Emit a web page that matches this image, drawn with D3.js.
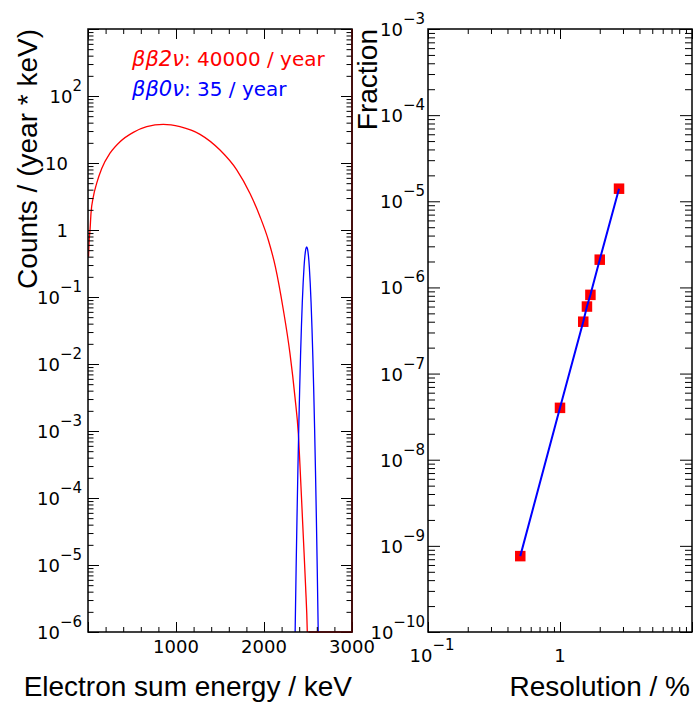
<!DOCTYPE html>
<html>
<head>
<meta charset="utf-8">
<script src="https://cdn.jsdelivr.net/npm/d3@7"></script>
<style>
  html, body { margin: 0; padding: 0; background: #fff; }
  svg { display: block; }
</style>
</head>
<body>
<svg id="chart" width="695" height="704"></svg>
<script>
// ββ2ν continuum: summed electron energy (keV) vs counts / (year * keV)
const energy2nu = [6, 12, 23, 34, 60, 99, 156, 250, 364, 515, 667, 856, 1045, 1273, 1500, 1690, 1841, 1955, 2049, 2130, 2220, 2295, 2352, 2390, 2420, 2447, 2473, 2492, 2505];
const counts2nu = [0.40, 0.65, 1.0, 1.77, 3.1, 5.0, 8.3, 14.0, 20.8, 28.7, 34.8, 37.8, 34.8, 26.8, 15.6, 7.9, 3.5, 1.58, 0.71, 0.28, 0.064, 0.0144, 3.2e-3, 9.2e-4, 1.5e-4, 2.6e-5, 4.7e-6, 1.0e-6, 1.0e-7];

// ββ0ν peak: summed electron energy (keV) vs counts / (year * keV)
const energy0nu = [2345, 2355, 2365, 2375, 2385, 2395, 2405, 2415, 2425, 2435, 2445, 2455, 2465, 2475, 2485, 2495, 2505, 2515, 2525, 2535, 2545, 2555, 2565, 2575, 2585, 2595, 2605, 2615, 2625];
const counts0nu = [1.6e-7, 1.26e-6, 8.8e-6, 5.1e-5, 2.56e-4, 1.1e-3, 4.1e-3, 0.0129, 0.0351, 0.0818, 0.163, 0.28, 0.412, 0.519, 0.56, 0.519, 0.412, 0.28, 0.163, 0.0818, 0.0351, 0.0129, 4.1e-3, 1.1e-3, 2.56e-4, 5.1e-5, 8.8e-6, 1.26e-6, 1.6e-7];

// Fraction of ββ2ν events leaking into the ββ0ν window vs energy resolution (%)
const resolution = [0.5, 1.0, 1.5, 1.6, 1.7, 2.0, 2.8];
const fraction = [7.6e-10, 4.0e-8, 4.0e-7, 6.0e-7, 8.2e-7, 2.1e-6, 1.4e-5];

// Axis labels
const energyTickLabels = [1000, 2000, 3000];
const countsDecades = [2, 1, 0, -1, -2, -3, -4, -5, -6];
const fractionDecades = [-3, -4, -5, -6, -7, -8, -9, -10];
const resolutionDecades = [-1, 0];

const legendLines = [
  { greek: "ββ2ν", rest: ": 40000 / year", color: "#ff0000" },
  { greek: "ββ0ν", rest: ": 35 / year", color: "#0000ff" }
];

const svg = d3.select("#chart");
const LABEL_FONT = "DejaVu Sans, Verdana, sans-serif";
const TITLE_FONT = "Liberation Sans, Arial, sans-serif";

const L = { x0: 88, x1: 352, y0: 29, y1: 632 };
const R = { x0: 428, x1: 692, y0: 29, y1: 632 };

const xE = d3.scaleLinear().domain([0, 3000]).range([L.x0, L.x1]);
const yC = d3.scaleLog().domain([1e-6, 1e3]).range([L.y1, L.y0]);
const xR = d3.scaleLog().domain([0.1, 10]).range([R.x0, R.x1]);
const yF = d3.scaleLog().domain([1e-10, 1e-3]).range([R.y1, R.y0]);

// log-axis tick positions: decades and the 2..9 subdivisions
function logTicks(scale) {
  const [a, b] = scale.domain();
  const lo = Math.round(Math.log10(a)), hi = Math.round(Math.log10(b));
  const major = [], minor = [];
  for (let e = lo; e <= hi; e++) {
    major.push(Math.pow(10, e));
    if (e < hi) for (let k = 2; k <= 9; k++) minor.push(k * Math.pow(10, e));
  }
  return { major, minor };
}

function drawAxis(g, axisFn, scale, values, size, transformAttr) {
  const ax = axisFn(scale).tickValues(values).tickSize(size).tickFormat("");
  const sel = g.append("g").attr("transform", transformAttr).call(ax);
  sel.select(".domain").remove();
  sel.selectAll(".tick line").attr("stroke", "#000").attr("stroke-width", 1);
}

function powLabel(sel, exp) {
  if (exp === 0) { sel.text("1"); return; }
  if (exp === 1) { sel.text("10"); return; }
  sel.append("tspan").text("10");
  sel.append("tspan").attr("dy", -12).attr("font-size", 15)
    .text(exp < 0 ? "\u2212" + Math.abs(exp) : String(exp));
}

// ---------- left panel: energy spectra ----------
const left = svg.append("g");
left.append("clipPath").attr("id", "clipL").append("rect")
  .attr("x", L.x0).attr("y", L.y0).attr("width", L.x1 - L.x0).attr("height", L.y1 - L.y0);

const spec2 = energy2nu.map((e, i) => [e, counts2nu[i]]);
const spec0 = energy0nu.map((e, i) => [e, counts0nu[i]]);
const specLine = d3.line().x(d => xE(d[0])).y(d => yC(d[1])).curve(d3.curveMonotoneX);

left.append("path").datum(spec2).attr("clip-path", "url(#clipL)")
  .attr("d", specLine).attr("fill", "none").attr("stroke", "#ff0000").attr("stroke-width", 1.3);
left.append("path").datum(spec0).attr("clip-path", "url(#clipL)")
  .attr("d", specLine).attr("fill", "none").attr("stroke", "#0000ff").attr("stroke-width", 1.3);

// ticks
const eMajor = [0, 1000, 2000, 3000];
const eMinor = d3.range(200, 3000, 200).filter(v => v % 1000 !== 0);
drawAxis(left, d3.axisBottom, xE, eMajor, -10, `translate(0,${L.y1})`);
drawAxis(left, d3.axisBottom, xE, eMinor, -5, `translate(0,${L.y1})`);
drawAxis(left, d3.axisTop, xE, eMajor, -10, `translate(0,${L.y0})`);
drawAxis(left, d3.axisTop, xE, eMinor, -5, `translate(0,${L.y0})`);
const cT = logTicks(yC);
drawAxis(left, d3.axisLeft, yC, cT.major, -11, `translate(${L.x0},0)`);
drawAxis(left, d3.axisLeft, yC, cT.minor, -5.5, `translate(${L.x0},0)`);
drawAxis(left, d3.axisRight, yC, cT.major, -11, `translate(${L.x1},0)`);
drawAxis(left, d3.axisRight, yC, cT.minor, -5.5, `translate(${L.x1},0)`);

left.append("rect").attr("x", L.x0).attr("y", L.y0)
  .attr("width", L.x1 - L.x0).attr("height", L.y1 - L.y0)
  .attr("fill", "none").attr("stroke", "#000").attr("stroke-width", 1.5);
// histogram tail running along the lower and right frame edges
left.append("path")
  .attr("d", `M${xE(2505)},${L.y1}H${L.x1}V${L.y0}`)
  .attr("fill", "none").attr("stroke", "#4a0000").attr("stroke-width", 1.5);

// tick labels
left.selectAll("text.xl").data(energyTickLabels).join("text")
  .attr("x", d => xE(d)).attr("y", 653)
  .attr("text-anchor", "middle").attr("font-family", LABEL_FONT).attr("font-size", 18)
  .text(d => d);
left.selectAll("text.yl").data(countsDecades).join("text")
  .attr("x", d => (d === 0 || d === 1) ? 68 : 82)
  .attr("y", d => yC(Math.pow(10, d)) + 7)
  .attr("text-anchor", "end").attr("font-family", LABEL_FONT).attr("font-size", 18)
  .each(function (d) { powLabel(d3.select(this), d); });

// legend
legendLines.forEach((l, i) => {
  const t = left.append("text").attr("x", 132).attr("y", 66 + i * 30)
    .attr("fill", l.color).attr("font-family", LABEL_FONT).attr("font-size", 20);
  t.append("tspan").attr("font-style", "italic").attr("font-size", 21).text(l.greek);
  t.append("tspan").text(l.rest);
});

// titles
left.append("text").attr("x", L.x1).attr("y", 696).attr("text-anchor", "end")
  .attr("font-family", TITLE_FONT).attr("font-size", 28).text("Electron sum energy / keV");
left.append("text").attr("transform", `translate(37,${L.y0}) rotate(-90)`).attr("text-anchor", "end")
  .attr("font-family", TITLE_FONT).attr("font-size", 28).text("Counts / (year * keV)");

// ---------- right panel: leakage fraction vs resolution ----------
const right = svg.append("g");
const rx = logTicks(xR), ry = logTicks(yF);
drawAxis(right, d3.axisBottom, xR, rx.major, -10, `translate(0,${R.y1})`);
drawAxis(right, d3.axisBottom, xR, rx.minor, -5, `translate(0,${R.y1})`);
drawAxis(right, d3.axisTop, xR, rx.major, -10, `translate(0,${R.y0})`);
drawAxis(right, d3.axisTop, xR, rx.minor, -5, `translate(0,${R.y0})`);
drawAxis(right, d3.axisLeft, yF, ry.major, -12, `translate(${R.x0},0)`);
drawAxis(right, d3.axisLeft, yF, ry.minor, -7, `translate(${R.x0},0)`);
drawAxis(right, d3.axisRight, yF, ry.major, -12, `translate(${R.x1},0)`);
drawAxis(right, d3.axisRight, yF, ry.minor, -7, `translate(${R.x1},0)`);

right.append("rect").attr("x", R.x0).attr("y", R.y0)
  .attr("width", R.x1 - R.x0).attr("height", R.y1 - R.y0)
  .attr("fill", "none").attr("stroke", "#000").attr("stroke-width", 1.5);

const pts = resolution.map((r, i) => [r, fraction[i]]);
const M = 10.5;
right.selectAll("rect.pt").data(pts).join("rect")
  .attr("x", d => xR(d[0]) - M / 2).attr("y", d => yF(d[1]) - M / 2)
  .attr("width", M).attr("height", M).attr("fill", "#ff0000");
right.append("path").datum(pts)
  .attr("d", d3.line().x(d => xR(d[0])).y(d => yF(d[1])))
  .attr("fill", "none").attr("stroke", "#0000ff").attr("stroke-width", 2);

right.selectAll("text.yl").data(fractionDecades).join("text")
  .attr("x", 425).attr("y", d => yF(Math.pow(10, d)) + 7)
  .attr("text-anchor", "end").attr("font-family", LABEL_FONT).attr("font-size", 18)
  .each(function (d) { powLabel(d3.select(this), d); });
right.selectAll("text.xl").data(resolutionDecades).join("text")
  .attr("x", d => xR(Math.pow(10, d)) + (d === 0 ? 0 : 4)).attr("y", 662)
  .attr("text-anchor", "middle").attr("font-family", LABEL_FONT).attr("font-size", 18)
  .each(function (d) { powLabel(d3.select(this), d); });

right.append("text").attr("x", 690).attr("y", 696).attr("text-anchor", "end")
  .attr("font-family", TITLE_FONT).attr("font-size", 28).text("Resolution / %");
right.append("text").attr("transform", `translate(377,${R.y0}) rotate(-90)`).attr("text-anchor", "end")
  .attr("font-family", TITLE_FONT).attr("font-size", 28).text("Fraction");
</script>
</body>
</html>
